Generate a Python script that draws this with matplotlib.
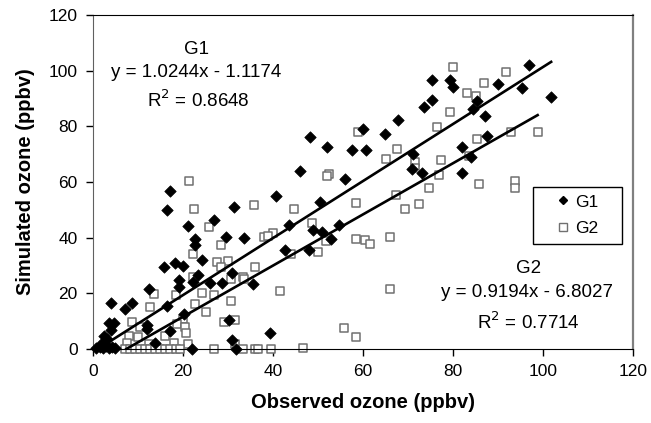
import numpy as np
import matplotlib
matplotlib.use("Agg")
import matplotlib.pyplot as plt
from matplotlib.lines import Line2D

plt.rcParams["font.family"] = ["Liberation Sans", "DejaVu Sans"]

# G1 观测值 / 模拟值
g1_obs = [79.3, 80.1, 90.0, 96.8, 95.4, 101.8, 84.5, 87.1, 85.4, 87.6, 81.9, 84.1, 82.1,
          75.4, 75.4, 73.5, 67.8, 60.0, 64.9, 48.2, 51.9, 57.6, 60.7, 46.0, 56.0, 71.0, 70.9, 73.1, 40.7,
          50.4, 43.5, 48.8, 50.9, 52.9, 54.7, 42.6, 47.9, 39.3,
          26.0, 28.6, 30.8, 35.6, 30.3, 30.8, 31.8,
          17.1, 16.5, 31.3, 26.8, 21.0, 22.7, 22.7, 29.6, 33.5, 24.3, 18.2, 19.9, 15.7,
          3.9, 7.1, 8.7, 12.4, 19.0, 19.0, 22.3, 23.4, 16.4, 20.3, 12.0, 12.0, 17.1,
          3.5, 4.6, 4.1, 2.4, 3.2, 2.1, 0.7, 1.5, 2.2, 2.9, 3.6, 4.2, 4.8, 13.8, 21.9]
g1_sim = [96.8, 94.1, 95.3, 102.1, 93.8, 90.4, 86.3, 83.6, 89.0, 76.6, 72.6, 69.0, 63.3,
          96.8, 89.6, 86.8, 82.3, 79.0, 77.3, 76.3, 72.6, 71.4, 71.4, 63.9, 61.1, 70.2, 64.5, 63.3, 55.0,
          52.8, 44.4, 42.9, 41.9, 39.5, 44.4, 35.6, 35.6, 5.9,
          23.7, 23.7, 27.4, 23.3, 10.4, 3.2, 0.0,
          56.8, 49.9, 51.0, 46.5, 44.1, 39.5, 37.5, 40.3, 39.9, 32.0, 31.0, 29.8, 29.3,
          16.6, 14.4, 16.6, 21.7, 24.7, 22.1, 24.1, 26.5, 15.3, 12.6, 8.7, 7.2, 6.3,
          9.2, 9.2, 6.8, 4.7, 3.5, 2.3, 0.5, 0.8, 0.2, 1.0, 0.3, 0.8, 0.2, 2.3, 0.0]

# G2 观测值 / 模拟值
g2_obs = [79.9, 91.8, 86.9, 83.2, 85.2, 79.4, 85.4, 92.8, 98.8, 77.4, 83.5, 76.9, 85.7, 93.7, 93.7,
          76.4, 58.8, 67.6, 65.0, 71.6, 71.6, 74.6, 52.5, 52.1, 67.4,
          44.6, 58.5, 69.4, 72.5, 40.0, 48.7, 51.8, 44.1, 49.9, 58.5, 60.4, 61.5, 66.1,
          41.5, 66.1, 55.8, 58.5, 39.6, 46.6,
          30.6, 33.4, 24.2, 26.8, 30.6, 25.1, 29.1, 31.5, 31.5, 26.9, 33.4, 36.0, 36.7,
          21.3, 22.5, 35.7, 25.7, 37.9, 38.9, 28.4, 22.3, 27.6, 30.0, 35.9, 28.4,
          13.5, 18.4, 12.6, 22.7, 8.7, 10.5, 20.1, 18.6, 20.4, 7.9, 10.1, 16.0, 17.9, 21.2, 7.6, 12.4,
          7.1, 8.3, 9.4, 10.5, 11.6, 12.7, 13.8, 14.9, 16.0, 17.1, 18.4, 19.3,
          22.2, 33.5, 20.7]
g2_sim = [101.3, 99.6, 95.4, 92.0, 90.8, 85.3, 75.3, 77.8, 77.8, 68.0, 69.3, 62.5, 59.3, 60.5, 57.7,
          79.9, 77.8, 71.7, 68.4, 67.2, 65.0, 57.7, 62.9, 62.1, 55.3,
          50.4, 52.6, 50.4, 52.0, 41.7, 45.1, 38.7, 34.2, 34.7, 39.5, 39.3, 37.8, 40.1,
          20.7, 21.7, 7.5, 4.4, 0.0, 0.5,
          25.0, 25.7, 20.1, 19.3, 17.2, 13.2, 9.6, 10.4, 1.7, 0.0, 0.0, 0.0, 0.0,
          60.3, 50.2, 51.8, 43.7, 40.1, 40.7, 37.5, 34.1, 31.4, 31.6, 29.6, 29.6,
          19.9, 19.3, 15.0, 16.3, 9.6, 7.8, 10.8, 9.0, 7.8, 4.7, 4.4, 4.7, 2.3, 1.9, 2.3, 1.9,
          0.0, 0.0, 0.0, 0.0, 0.0, 0.0, 0.0, 0.0, 0.0, 0.0, 0.0, 0.0,
          25.7, 25.3, 5.9]

# 趋势线参数
g1_slope, g1_icpt, g1_r2 = 1.0244, -1.1174, 0.8648
g2_slope, g2_icpt, g2_r2 = 0.9194, -6.8027, 0.7714

g1_obs = np.array(g1_obs)
g1_sim = np.array(g1_sim)
g2_obs = np.array(g2_obs)
g2_sim = np.array(g2_sim)

fig = plt.figure(figsize=(6.51, 4.23), dpi=100)
ax = fig.add_axes([0.1429, 0.175, 0.8295, 0.7895])

ax.scatter(g1_obs, g1_sim, marker="D", s=34, c="black", edgecolors="black",
           linewidths=0.5, clip_on=False, zorder=3)
ax.scatter(g2_obs, g2_sim, marker="s", s=34, facecolors="white", edgecolors="#707070",
           linewidths=1.1, clip_on=False, zorder=2)

# 趋势线
xx1 = np.array([g1_obs.min(), g1_obs.max()])
ax.plot(xx1, g1_slope * xx1 + g1_icpt, color="black", lw=1.9, zorder=4)
x2_start = max(g2_obs.min(), -g2_icpt / g2_slope)
xx2 = np.array([x2_start, g2_obs.max()])
ax.plot(xx2, g2_slope * xx2 + g2_icpt, color="black", lw=1.9, zorder=4)

ax.set_xlim(0, 120)
ax.set_ylim(0, 120)
ax.set_xticks(np.arange(0, 121, 20))
ax.set_yticks(np.arange(0, 121, 20))
ax.tick_params(direction="out", length=5, width=1, labelsize=12.5, color="black", pad=6)

ax.spines["left"].set_color("#606060")
ax.spines["right"].set_color("#808080")
ax.spines["right"].set_linewidth(1.6)
ax.spines["top"].set_color("black")
ax.spines["bottom"].set_color("black")

ax.set_xlabel("Observed ozone (ppbv)", fontsize=14.5, fontweight="bold", labelpad=10)
ax.set_ylabel("Simulated ozone (ppbv)", fontsize=14.5, fontweight="bold", labelpad=10)

# 方程文字
fs = 13.5
ax.text(23.0, 107.5, "G1", fontsize=fs, ha="center", va="center")
ax.text(23.0, 99.5, "y = %.4fx - %.4f" % (g1_slope, -g1_icpt), fontsize=fs, ha="center", va="center")
ax.text(23.5, 89.5, "R$^2$ = %.4f" % g1_r2, fontsize=fs, ha="center", va="center")
ax.text(96.8, 28.8, "G2", fontsize=fs, ha="center", va="center")
ax.text(96.4, 20.2, "y = %.4fx - %.4f" % (g2_slope, -g2_icpt), fontsize=fs, ha="center", va="center")
ax.text(96.8, 9.5, "R$^2$ = %.4f" % g2_r2, fontsize=fs, ha="center", va="center")

handles = [Line2D([], [], marker="D", ls="", color="black", markersize=4.5),
           Line2D([], [], marker="s", ls="", markerfacecolor="white",
                  markeredgecolor="#707070", markersize=5.5)]
leg = ax.legend(handles, ["G1", "G2"], loc="upper left",
                bbox_to_anchor=(0.8148, 0.385, 0.1648, 0.1), mode="expand", borderaxespad=0,
                fontsize=12.6, fancybox=False, framealpha=1, edgecolor="black",
                handlelength=2.62, handletextpad=-0.62, borderpad=0.42, labelspacing=0.65)
leg.get_frame().set_linewidth(1.0)

fig.savefig("out.png", dpi=100)
